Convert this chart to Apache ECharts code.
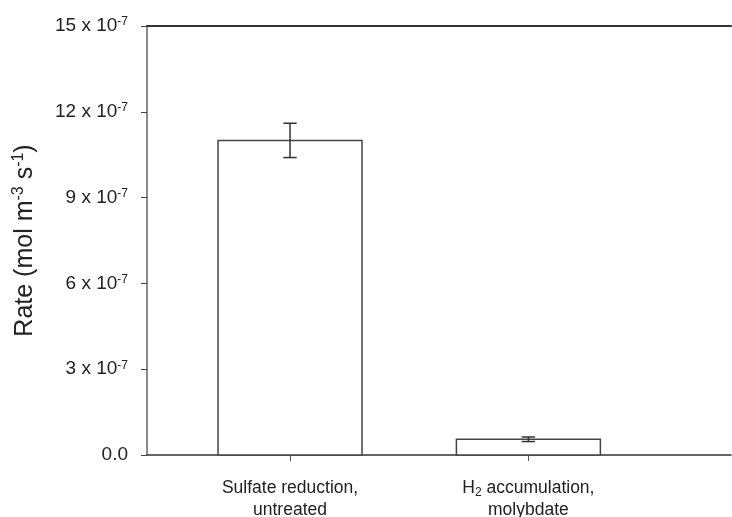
<!DOCTYPE html>
<html><head><meta charset="utf-8">
<script src="https://cdn.jsdelivr.net/npm/echarts@6/dist/echarts.min.js"></script>
<style>html,body{margin:0;padding:0;background:#fff}#c{width:732px;height:517px}</style>
</head><body><div id="c"></div>
<script>
// values in units of 1e-7 mol m^-3 s^-1
const categories = ['Sulfate reduction,\nuntreated', '{t|H}{sub|2}{t| accumulation,}\n{t|molybdate}'];
const rates = [11.0, 0.55];
const errors = [0.6, 0.08];
const yTicks = [0, 3, 6, 9, 12, 15];

const chart = echarts.init(document.getElementById('c'), null, {renderer: 'canvas'});
const font = 'Liberation Sans, Arial, sans-serif';
const barHalf = 0.302;
const capHalf = 0.028;

chart.setOption({
  animation: false,
  backgroundColor: '#fff',
  grid: {left: 147, right: 1, top: 26, bottom: 62, containLabel: false, outerBoundsMode: 'none'},
  xAxis: [{
    type: 'value', min: -0.6, max: 1.85, position: 'bottom',
    splitLine: {show: false},
    axisLine: {show: true, onZero: false, lineStyle: {color: '#333', width: 1.5}},
    axisTick: {show: true, length: 6, customValues: [0, 1], lineStyle: {color: '#555', width: 1}},
    axisLabel: {
      customValues: [0, 1], margin: 22,
      formatter: v => categories[Math.round(v)],
      color: '#222', fontFamily: font, fontSize: 17.5, lineHeight: 22, align: 'center',
      rich: {
        t: {fontSize: 17.5, fontFamily: font, color: '#222', lineHeight: 22},
        sub: {fontSize: 12, fontFamily: font, color: '#222', verticalAlign: 'bottom', lineHeight: 22, padding: [8, 0, 0, 0]}
      }
    }
  }, {
    type: 'value', min: -0.6, max: 1.85, position: 'top',
    axisLine: {show: true, onZero: false, lineStyle: {color: '#333', width: 2}},
    axisTick: {show: false}, axisLabel: {show: false}, splitLine: {show: false}
  }],
  yAxis: {
    type: 'value', min: 0, max: 15, interval: 3,
    splitLine: {show: false},
    axisLine: {show: true, onZero: false, lineStyle: {color: '#666', width: 1.5}},
    axisTick: {show: true, length: 6, lineStyle: {color: '#444', width: 1}},
    axisLabel: {
      margin: 19, color: '#222', fontFamily: font, fontSize: 19,
      formatter: v => v === 0 ? '0.0' : (v + ' x 10{sup|-7}'),
      rich: {sup: {fontSize: 12, fontFamily: font, color: '#222', verticalAlign: 'top', padding: [0, 0, 8, 0]}}
    },
    name: 'Rate (mol m{sup|-3} s{sup|-1})',
    nameLocation: 'middle', nameGap: 108,
    nameTextStyle: {
      fontSize: 25, fontFamily: font, color: '#222',
      rich: {sup: {fontSize: 16, fontFamily: font, color: '#222', verticalAlign: 'top', padding: [0, 0, 12, 0]}}
    }
  },
  series: [{
    type: 'custom',
    data: rates.map((r, i) => [i, r, errors[i]]),
    renderItem: (params, api) => {
      const x = api.value(0), y = api.value(1), e = api.value(2);
      const p0 = api.coord([x - barHalf, y]);
      const p1 = api.coord([x + barHalf, 0]);
      const top = api.coord([x, y + e]);
      const bot = api.coord([x, y - e]);
      const cl = api.coord([x - capHalf, 0])[0];
      const cr = api.coord([x + capHalf, 0])[0];
      const ls = {stroke: '#333', lineWidth: 1.5};
      return {
        type: 'group',
        children: [
          {type: 'rect', shape: {x: p0[0], y: p0[1], width: p1[0] - p0[0], height: p1[1] - p0[1]},
           style: {fill: '#fff', stroke: '#444', lineWidth: 1.5}},
          {type: 'line', shape: {x1: top[0], y1: top[1], x2: bot[0], y2: bot[1]}, style: ls},
          {type: 'line', shape: {x1: cl, y1: top[1], x2: cr, y2: top[1]}, style: ls},
          {type: 'line', shape: {x1: cl, y1: bot[1], x2: cr, y2: bot[1]}, style: ls}
        ]
      };
    }
  }]
});
</script></body></html>
